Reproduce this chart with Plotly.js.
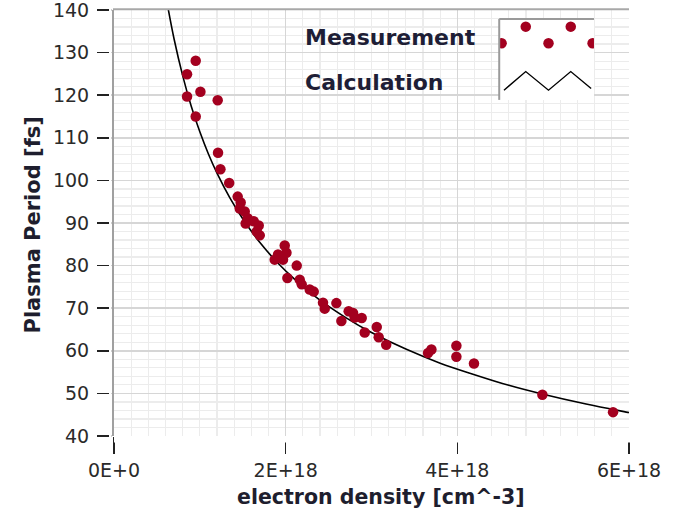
<!DOCTYPE html>
<html>
<head>
<meta charset="utf-8">
<script src="https://cdn.plot.ly/plotly-3.0.1.min.js"></script>
<style>
  html, body { margin: 0; padding: 0; background: #ffffff; }
  #chart { width: 675px; height: 517px; }
</style>
</head>
<body>
<div id="chart"></div>
<script>
// ---- data ----
const measDensity = [
  0.952e18, 0.851e18, 0.851e18, 1.007e18, 1.208e18, 0.952e18,
  1.212e18, 1.240e18, 1.342e18, 1.441e18, 1.476e18, 1.465e18, 1.523e18, 1.558e18, 1.534e18, 1.628e18,
  1.686e18, 1.663e18, 1.698e18, 1.989e18, 2.009e18, 1.911e18, 1.872e18, 1.969e18, 2.129e18, 2.020e18,
  2.164e18, 2.187e18, 2.280e18, 2.327e18, 2.435e18, 2.455e18, 2.591e18, 2.649e18, 2.734e18, 2.785e18,
  2.804e18, 2.886e18, 2.921e18, 3.061e18, 3.084e18, 3.171e18, 3.659e18, 3.698e18, 3.989e18, 3.989e18,
  4.194e18, 4.991e18, 5.814e18
];
const measPeriod = [
  128.1, 124.9, 119.7, 120.8, 118.8, 115.0,
  106.5, 102.6, 99.4, 96.2, 94.8, 93.4, 92.7, 91.1, 89.9, 90.4,
  89.4, 88.0, 87.1, 84.7, 83.0, 82.6, 81.4, 81.4, 80.0, 77.1,
  76.7, 75.6, 74.4, 73.9, 71.3, 69.9, 71.2, 67.0, 69.3, 68.9,
  67.8, 67.7, 64.3, 65.6, 63.2, 61.4, 59.5, 60.3, 61.2, 58.6,
  57.0, 49.7, 45.6
];
const calcDensity = [
  0.62e18, 0.7e18, 0.8e18, 0.9e18, 1.0e18, 1.1e18, 1.2e18, 1.35e18, 1.5e18, 1.7e18, 1.9e18, 2.1e18,
  2.4e18, 2.7e18, 3.0e18, 3.4e18, 3.8e18, 4.2e18, 4.6e18, 5.0e18, 5.5e18, 6.0e18, 6.05e18
];
const calcPeriod = [
  141.5, 133.2, 124.6, 117.4, 111.4, 106.2, 101.7, 95.9, 91.0, 85.4, 80.8, 76.9,
  71.9, 67.8, 64.3, 60.4, 57.1, 54.4, 51.9, 49.8, 47.5, 45.5, 45.3
];
const xTickVals = [0, 2e18, 4e18, 6e18];
const xTickText = ['0E+0', '2E+18', '4E+18', '6E+18'];
const yTickVals = [40, 50, 60, 70, 80, 90, 100, 110, 120, 130, 140];
const seriesNames = ['Measurement', 'Calculation'];
const xTitle = 'electron density [cm^-3]';
const yTitle = 'Plasma Period [fs]';
// legend sample glyphs (positions inside the legend box, 0..1)
const legendDotX = [0.28, 0.755, 0.025, 0.52, 0.985];
const legendDotY = [0.905, 0.905, 0.70, 0.70, 0.70];
const legendLineX = [0.05, 0.28, 0.52, 0.755, 0.97];
const legendLineY = [0.12, 0.35, 0.12, 0.35, 0.14];

const red = '#a3001f';
const font = 'DejaVu Sans, Verdana, sans-serif';

const traces = [
  {
    x: calcDensity, y: calcPeriod, type: 'scatter', mode: 'lines',
    line: { color: '#000000', width: 1.6, shape: 'spline' },
    name: seriesNames[1], showlegend: false, hoverinfo: 'skip'
  },
  {
    x: measDensity, y: measPeriod, type: 'scatter', mode: 'markers',
    marker: { color: red, size: 10.5 },
    name: seriesNames[0], showlegend: false
  },
  {
    x: legendDotX, y: legendDotY, xaxis: 'x2', yaxis: 'y2', type: 'scatter', mode: 'markers',
    marker: { color: red, size: 10.5 }, showlegend: false, hoverinfo: 'skip', cliponaxis: true
  },
  {
    x: legendLineX, y: legendLineY, xaxis: 'x2', yaxis: 'y2', type: 'scatter', mode: 'lines',
    line: { color: '#000000', width: 1.4 }, showlegend: false, hoverinfo: 'skip', cliponaxis: true
  }
];

const layout = {
  width: 675, height: 517,
  margin: { l: 114, r: 46, t: 10, b: 81 },
  paper_bgcolor: '#ffffff', plot_bgcolor: '#ffffff',
  font: { family: font, color: '#222222' },
  xaxis: {
    range: [0, 6e18], tickvals: xTickVals, ticktext: xTickText,
    ticks: 'outside', ticklen: 17, tickwidth: 1.5, tickcolor: '#222222',
    ticklabeloverflow: 'allow',
    tickfont: { family: font, size: 19, color: '#2a2a2a' },
    showgrid: true, gridcolor: '#d6d6d6', gridwidth: 1.5,
    minor: { dtick: 0.2e18, tick0: 0, showgrid: true, gridcolor: '#ececec', gridwidth: 1.2, ticks: '' },
    showline: false, zeroline: false, fixedrange: true
  },
  yaxis: {
    range: [40, 140], tickvals: yTickVals,
    ticks: 'outside', ticklen: 15, tickwidth: 1.5, tickcolor: '#222222',
    ticklabelstandoff: 4, ticklabeloverflow: 'allow',
    tickfont: { family: font, size: 19, color: '#2a2a2a' },
    showgrid: true, gridcolor: '#d6d6d6', gridwidth: 1.5,
    minor: { dtick: 2, tick0: 40, showgrid: true, gridcolor: '#ececec', gridwidth: 1.2, ticks: '' },
    showline: true, linecolor: '#a0a0a0', linewidth: 2,
    zeroline: false, fixedrange: true
  },
  xaxis2: {
    domain: [0.748, 0.932], range: [0, 1], anchor: 'y2',
    showgrid: false, zeroline: false, showline: false, showticklabels: false, ticks: '', fixedrange: true
  },
  yaxis2: {
    domain: [0.789, 0.979], range: [0, 1], anchor: 'x2',
    showgrid: false, zeroline: false, showline: false, showticklabels: false, ticks: '', fixedrange: true
  },
  shapes: [
    // white fill of legend glyph box
    { type: 'rect', xref: 'x2', yref: 'y2', x0: 0, x1: 1, y0: 0, y1: 1,
      fillcolor: '#ffffff', line: { width: 0 }, layer: 'below' },
    // legend box borders (left, top)
    { type: 'line', xref: 'x2 domain', yref: 'y2 domain', x0: 0, x1: 0, y0: 0, y1: 1,
      line: { color: '#9a9a9a', width: 2 }, layer: 'above' },
    { type: 'line', xref: 'x2 domain', yref: 'y2 domain', x0: 0, x1: 1, y0: 1, y1: 1,
      line: { color: '#9a9a9a', width: 2 }, layer: 'above' },
    // top frame line
    { type: 'line', xref: 'paper', yref: 'paper', x0: -0.002, x1: 1, y0: 1.002, y1: 1.002,
      line: { color: '#a8a8a8', width: 2 }, layer: 'above' },
    // gaps between tick marks and the axes
    { type: 'rect', xref: 'paper', yref: 'paper', x0: 0.0, x1: 1.05, y0: -0.0153, y1: -0.0025,
      fillcolor: '#ffffff', line: { width: 0 }, layer: 'above' },
    { type: 'rect', xref: 'paper', yref: 'paper', x0: -0.0097, x1: -0.0043, y0: -0.01, y1: 1.01,
      fillcolor: '#ffffff', line: { width: 0 }, layer: 'above' }
  ],
  annotations: [
    { text: '<b>' + seriesNames[0] + '</b>', xref: 'paper', yref: 'paper',
      x: (303 - 114) / 515, y: (436 - 37) / 426, xanchor: 'left', yanchor: 'middle',
      showarrow: false, font: { family: font, size: 22, color: '#1e1e36' } },
    { text: '<b>' + seriesNames[1] + '</b>', xref: 'paper', yref: 'paper',
      x: (303 - 114) / 515, y: (436 - 82) / 426, xanchor: 'left', yanchor: 'middle',
      showarrow: false, font: { family: font, size: 22, color: '#1e1e36' } },
    { text: '<b>' + xTitle + '</b>', xref: 'paper', yref: 'paper',
      x: (381 - 114) / 515, y: (436 - 497) / 426, xanchor: 'center', yanchor: 'middle',
      showarrow: false, font: { family: font, size: 20.5, color: '#1e1e2e' } },
    { text: '<b>' + yTitle + '</b>', xref: 'paper', yref: 'paper', textangle: -90,
      x: (32 - 114) / 515, y: (436 - 225.5) / 426, xanchor: 'center', yanchor: 'middle',
      showarrow: false, font: { family: font, size: 21, color: '#1e1e2e' } }
  ],
  showlegend: false
};

Plotly.newPlot('chart', traces, layout, { displayModeBar: false, staticPlot: true });
</script>
</body>
</html>
